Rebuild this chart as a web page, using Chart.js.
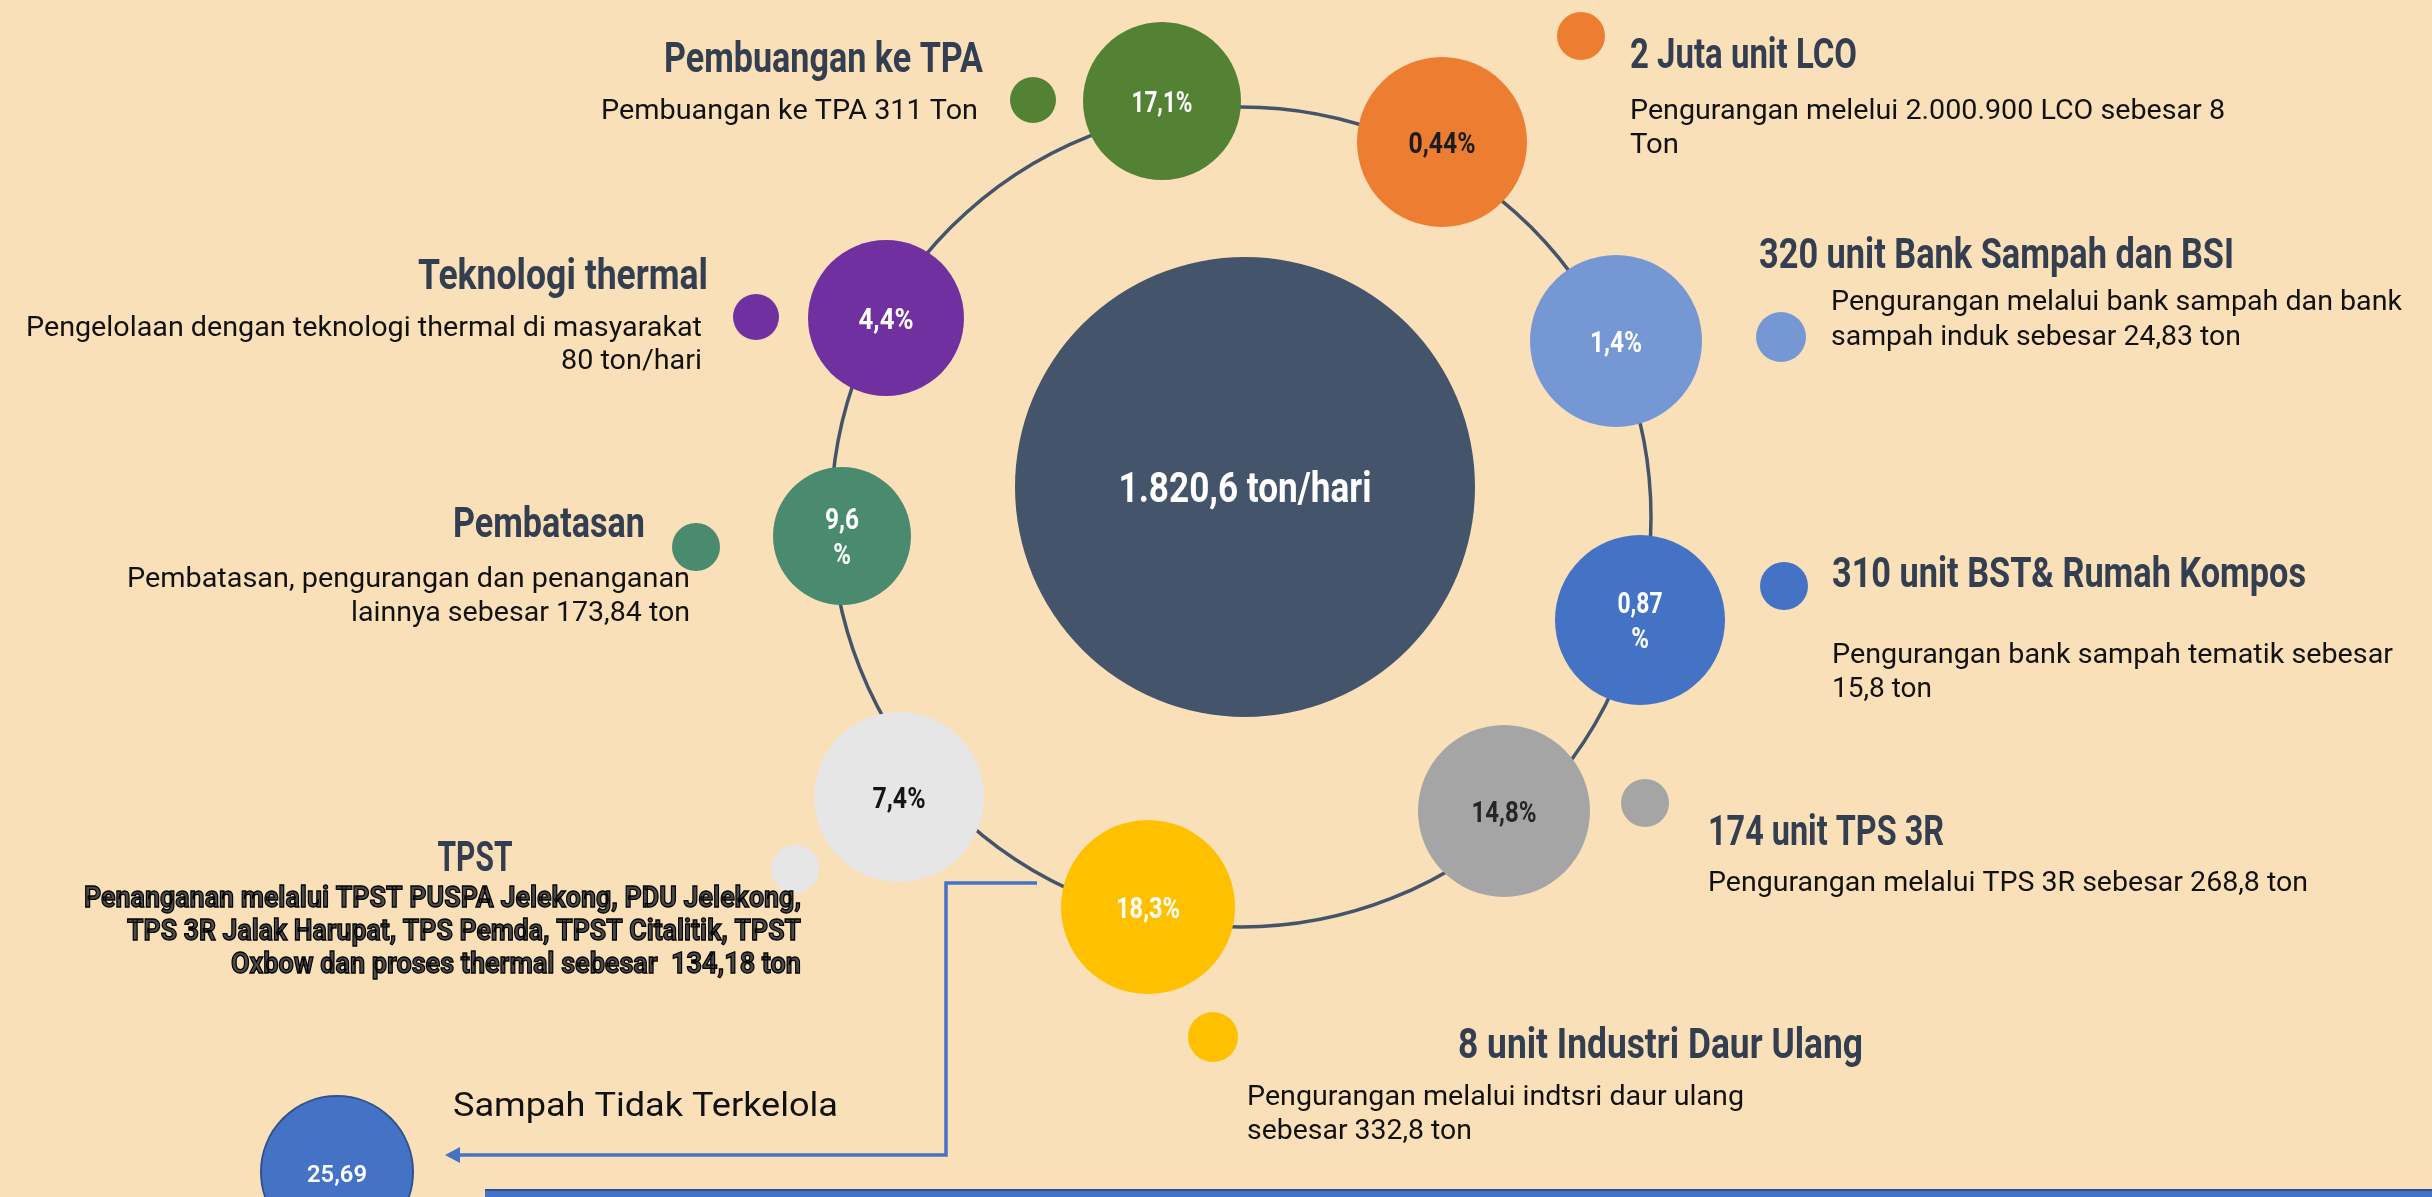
<!DOCTYPE html>
<html>
<head>
<meta charset="utf-8">
<script src="https://cdn.jsdelivr.net/npm/chart.js@4/dist/chart.umd.min.js"></script>
<style>
  html, body { margin: 0; padding: 0; background: #F9E0B8; overflow: hidden; }
  #wrap { width: 2432px; height: 1197px; position: relative; }
  canvas { display: block; }
</style>
</head>
<body>
<div id="wrap"><canvas id="c" width="2432" height="1197"></canvas></div>
<script>
// ================= DATA =================
const categories = [
  "Pembuangan ke TPA",
  "2 Juta unit LCO",
  "320 unit Bank Sampah dan BSI",
  "310 unit BST& Rumah Kompos",
  "174 unit TPS 3R",
  "8 unit Industri Daur Ulang",
  "TPST",
  "Pembatasan",
  "Teknologi thermal"
];
const shareLabels = [["17,1%"], ["0,44%"], ["1,4%"], ["0,87", "%"], ["14,8%"], ["18,3%"], ["7,4%"], ["9,6", "%"], ["4,4%"]];
const tonnage = [311, 8, 24.83, 15.8, 268.8, 332.8, 134.18, 173.84, 80];
const descriptions = [
  ["Pembuangan ke TPA 311 Ton"],
  ["Pengurangan melelui 2.000.900 LCO sebesar 8", "Ton"],
  ["Pengurangan melalui bank sampah dan bank", "sampah induk sebesar 24,83 ton"],
  ["Pengurangan bank sampah tematik sebesar", "15,8 ton"],
  ["Pengurangan melalui TPS 3R sebesar 268,8 ton"],
  ["Pengurangan melalui indtsri daur ulang", "sebesar 332,8 ton"],
  ["Penanganan melalui TPST PUSPA Jelekong, PDU Jelekong,", "TPS 3R Jalak Harupat, TPS Pemda, TPST Citalitik, TPST", "Oxbow dan proses thermal sebesar  134,18 ton"],
  ["Pembatasan, pengurangan dan penanganan", "lainnya sebesar 173,84 ton"],
  ["Pengelolaan dengan teknologi thermal di masyarakat", "80 ton/hari"]
];
const totalLabel = "1.820,6 ton/hari";
const unmanagedLabel = "25,69";
const unmanagedTitle = "Sampah Tidak Terkelola";

// ================= LAYOUT (positions / sizes, kept apart from the data) =================
const bubbleX = [1162, 1442, 1616, 1640, 1504, 1148, 899, 842, 886];
const bubbleY = [101, 142, 341, 620, 811, 907, 797, 536, 318];
const bubbleR = [79, 85, 86, 85, 86, 87, 85, 69, 78];
const dotX = [1033, 1581, 1781, 1784, 1645, 1213, 795, 696, 756];
const dotY = [100, 36, 337, 586, 803, 1037, 869, 547, 317];
const dotR = [23, 24, 25, 24, 24, 25, 24, 24, 23];
const ring = { x: 1241, y: 517, r: 410 };
const totalBubble = { x: 1245, y: 487, r: 230 };
const unmanagedBubble = { x: 337, y: 1172, r: 76 };

// ================= STYLES =================
const BG = '#F9E0B8';
const colors = ['#548235', '#ED7D31', '#7597D4', '#4472C4', '#A5A5A5', '#FFC000', '#E6E6E6', '#4A8B6F', '#7030A0'];
const labelColors = ['#FFFFFF', '#1C1C1C', '#FFFFFF', '#FFFFFF', '#262626', '#FFFFFF', '#141414', '#FFFFFF', '#FFFFFF'];
const labelWidths = [[61], [67], [52], [45, 0], [65], [64], [53], [34, 0], [55]];
const titleColor = '#333F50';

const titleLayout = [
  { x: 983, y: 72, align: 'right', w: 319 },
  { x: 1630, y: 68, align: 'left', w: 227 },
  { x: 1759, y: 268, align: 'left', w: 475 },
  { x: 1832, y: 587, align: 'left', w: 474 },
  { x: 1708, y: 845, align: 'left', w: 236 },
  { x: 1458, y: 1058, align: 'left', w: 405 },
  { x: 475, y: 871, align: 'center', w: 75 },
  { x: 645, y: 537, align: 'right', w: 192 },
  { x: 708, y: 289, align: 'right', w: 290 }
];
const descLayout = [
  { x: 978, ys: [119], align: 'right', ws: [377] },
  { x: 1630, ys: [119, 153], align: 'left', ws: [595, 49] },
  { x: 1831, ys: [310, 345], align: 'left', ws: [571, 410] },
  { x: 1832, ys: [663, 697], align: 'left', ws: [561, 100] },
  { x: 1708, ys: [891], align: 'left', ws: [600] },
  { x: 1247, ys: [1105, 1139], align: 'left', ws: [497, 225] },
  { x: 801, ys: [907, 940, 973], align: 'right', ws: [717, 674, 570], heavy: true },
  { x: 690, ys: [587, 621], align: 'right', ws: [563, 339] },
  { x: 702, ys: [336, 369], align: 'right', ws: [676, 141] }
];

function fitText(ctx, text, x, y, align, font, color, width, heavy) {
  ctx.save();
  ctx.font = font;
  const w = ctx.measureText(text).width;
  const s = width ? width / w : 1;
  ctx.translate(x, y);
  ctx.scale(s, 1);
  ctx.textAlign = align;
  ctx.textBaseline = 'alphabetic';
  ctx.fillStyle = color;
  ctx.fillText(text, 0, 0);
  if (heavy) {
    ctx.lineWidth = 1.3;
    ctx.strokeStyle = '#000';
    ctx.strokeText(text, 0, 0);
  }
  ctx.restore();
}

const bgPlugin = {
  id: 'bg',
  beforeDraw(chart) {
    const c = chart.ctx;
    c.save();
    c.fillStyle = BG;
    c.fillRect(0, 0, chart.width, chart.height);
    c.restore();
  }
};

const decorPlugin = {
  id: 'decor',
  afterDatasetsDraw(chart) {
    const c = chart.ctx;
    // connector arrow to "Sampah Tidak Terkelola"
    c.save();
    c.strokeStyle = '#4472C4';
    c.lineWidth = 3.5;
    c.beginPath();
    c.moveTo(1037, 883);
    c.lineTo(946, 883);
    c.lineTo(946, 1155);
    c.lineTo(458, 1155);
    c.stroke();
    c.fillStyle = '#4472C4';
    c.beginPath();
    c.moveTo(445, 1155);
    c.lineTo(460, 1147);
    c.lineTo(460, 1163);
    c.closePath();
    c.fill();
    // bottom banner edge
    c.fillStyle = '#4472C4';
    c.fillRect(485, 1190, 1947, 7);
    c.fillStyle = '#2F528F';
    c.fillRect(485, 1189, 1947, 2);
    c.restore();

    // bubble labels (positions from the library's elements)
    const meta = chart.getDatasetMeta(2);
    meta.data.forEach((el, i) => {
      const lines = shareLabels[i];
      const fs = 30;
      const cap = fs * 0.355;
      const gap = 35;
      lines.forEach((t, k) => {
        const off = (k - (lines.length - 1) / 2) * gap;
        const w = labelWidths[i][k] || 0;
        c.save();
        c.font = '700 ' + fs + 'px Roboto';
        const nat = c.measureText(t).width;
        c.restore();
        fitText(c, t, el.x, el.y + off + cap, 'center', '700 ' + fs + 'px Roboto', labelColors[i], w || nat * 0.8);
      });
    });
    const tm = chart.getDatasetMeta(1).data[0];
    fitText(c, totalLabel, tm.x, tm.y + 42 * 0.355, 'center', '700 42px Roboto', '#FFFFFF', 253);
    const um = chart.getDatasetMeta(4).data[0];
    fitText(c, unmanagedLabel, um.x, um.y + 24 * 0.355 + 1, 'center', '600 24px Roboto', '#FFFFFF', 60);

    // titles and descriptions
    categories.forEach((t, i) => {
      const L = titleLayout[i];
      fitText(c, t, L.x, L.y, L.align, '700 42px Roboto', titleColor, L.w);
      const D = descLayout[i];
      descriptions[i].forEach((line, k) => {
        if (D.heavy) {
          fitText(c, line, D.x, D.ys[k], D.align, '700 29px Roboto', '#4a4a4a', D.ws[k], true);
        } else {
          fitText(c, line, D.x, D.ys[k], D.align, '400 28px Roboto', '#111111', D.ws[k]);
        }
      });
    });
    fitText(c, unmanagedTitle, 453, 1116, 'left', '400 34px Roboto', '#111111', 385);
  }
};

const ctx = document.getElementById('c').getContext('2d');
new Chart(ctx, {
  type: 'bubble',
  data: {
    datasets: [
      {
        label: 'ring',
        data: [{ x: ring.x, y: ring.y, r: ring.r }],
        backgroundColor: 'rgba(0,0,0,0)',
        borderColor: '#44546A',
        borderWidth: 3.5,
        clip: false,
        order: 4
      },
      {
        label: 'total',
        data: [{ x: totalBubble.x, y: totalBubble.y, r: totalBubble.r }],
        backgroundColor: '#44546A',
        borderWidth: 0,
        clip: false,
        order: 3
      },
      {
        label: 'shares',
        data: categories.map((c, i) => ({ x: bubbleX[i], y: bubbleY[i], r: bubbleR[i] })),
        backgroundColor: colors,
        borderWidth: 0,
        clip: false,
        order: 1
      },
      {
        label: 'markers',
        data: categories.map((c, i) => ({ x: dotX[i], y: dotY[i], r: dotR[i] })),
        backgroundColor: colors,
        borderWidth: 0,
        clip: false,
        order: 1
      },
      {
        label: 'unmanaged',
        data: [{ x: unmanagedBubble.x, y: unmanagedBubble.y, r: unmanagedBubble.r }],
        backgroundColor: '#4472C4',
        borderColor: '#2F528F',
        borderWidth: 2,
        clip: false,
        order: 1
      }
    ]
  },
  options: {
    responsive: false,
    devicePixelRatio: 1,
    animation: false,
    events: [],
    layout: { padding: 0, autoPadding: false },
    plugins: { legend: { display: false }, tooltip: { enabled: false } },
    scales: {
      x: { type: 'linear', min: 0, max: 2432, display: false },
      y: { type: 'linear', min: 0, max: 1197, reverse: true, display: false }
    }
  },
  plugins: [bgPlugin, decorPlugin]
});
</script>
</body>
</html>
